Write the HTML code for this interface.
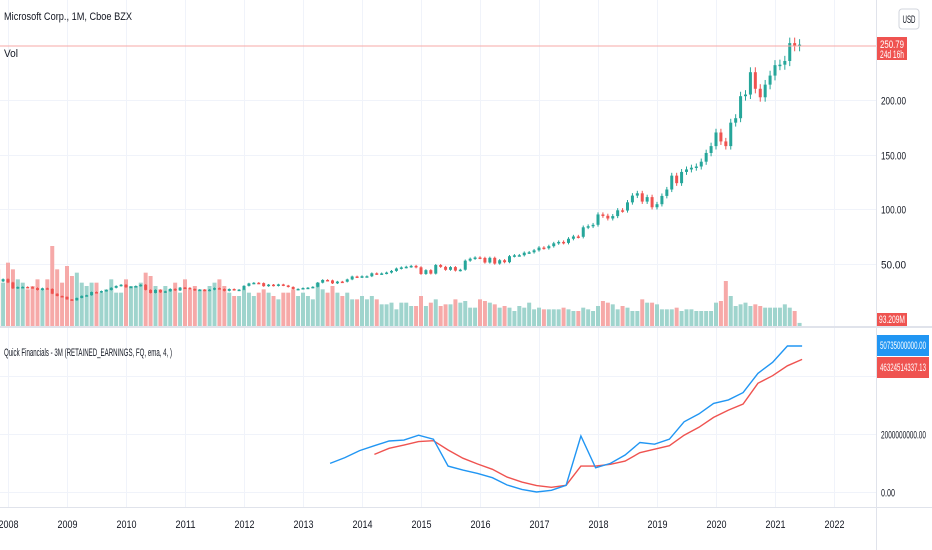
<!DOCTYPE html>
<html><head><meta charset="utf-8"><style>
html,body{margin:0;padding:0;background:#fff;width:932px;height:550px;overflow:hidden;font-family:"Liberation Sans",sans-serif}
svg text{font-family:"Liberation Sans",sans-serif;font-size:11px}
</style></head><body>
<svg id="chart" width="932" height="550">
<g id="grid"></g>
<g id="vol"></g>
<g id="candles"></g>
<line x1="0" y1="46" x2="876" y2="46" stroke="#f7a9a7" stroke-width="1"/>
<g id="lower"></g>
<rect x="0" y="326" width="932" height="2" fill="#e0e3eb"/>
<line x1="876.5" y1="0" x2="876.5" y2="550" stroke="#e0e3eb"/>
<line x1="0" y1="507.5" x2="932" y2="507.5" stroke="#e0e3eb"/>
<g id="axes"></g>
<text x="4" y="20" fill="#131722" font-size="12" textLength="128" lengthAdjust="spacingAndGlyphs">Microsoft Corp., 1M, Cboe BZX</text>
<text x="4" y="57" fill="#131722" font-size="12" textLength="14" lengthAdjust="spacingAndGlyphs">Vol</text>
<text x="4" y="356" fill="#131722" font-size="11" textLength="168" lengthAdjust="spacingAndGlyphs">Quick Financials - 3M (RETAINED_EARNINGS, FQ, ema, 4, )</text>
<rect x="899" y="9" width="20" height="20" rx="3" fill="#fff" stroke="#d1d4dc"/>
<text x="909" y="23" text-anchor="middle" fill="#131722" font-size="10" textLength="13" lengthAdjust="spacingAndGlyphs">USD</text>
<rect x="877" y="37" width="30" height="23" fill="#ef5350"/>
<text x="880" y="48" fill="#fff" font-size="10" textLength="24" lengthAdjust="spacingAndGlyphs">250.79</text>
<text x="880" y="58" fill="#fff" font-size="9" textLength="24" lengthAdjust="spacingAndGlyphs">24d 16h</text>
<rect x="877" y="313" width="30" height="13" fill="#ef5350"/>
<text x="879" y="323" fill="#fff" font-size="9" textLength="26" lengthAdjust="spacingAndGlyphs">93.209M</text>
<rect x="877" y="335" width="52" height="21" fill="#2196f3"/>
<text x="880" y="349" fill="#fff" font-size="10" textLength="46" lengthAdjust="spacingAndGlyphs">50735000000.00</text>
<rect x="877" y="357" width="52" height="21" fill="#ef5350"/>
<text x="880" y="371" fill="#fff" font-size="10" textLength="46" lengthAdjust="spacingAndGlyphs">46324514337.13</text>
</svg>
<script>
const closes=[29.5,29,28.7,29.5,36.8,33.6,35.6,
32.6,27.2,28.4,28.5,28.3,27.5,25.7,27.3,26.7,22.3,20.2,19.4,
17.1,16.2,18.4,20.3,20.9,23.8,23.5,24.7,25.7,27.7,29.4,30.5,
28.2,28.7,29.3,30.5,25.8,23.0,25.8,23.5,24.5,26.7,25.3,27.9,
27.7,26.6,25.4,26.0,25.0,26.0,27.4,26.6,24.9,26.6,25.6,26.0,
29.5,31.7,32.3,32.0,29.2,30.6,29.5,30.8,29.8,28.5,26.6,26.7,
27.5,27.8,28.6,32.4,34.9,34.5,31.8,33.4,33.3,35.4,38.1,37.4,
38.3,38.3,41.0,40.4,40.9,41.7,43.2,45.4,46.4,47.0,47.8,46.5,
40.4,43.9,40.7,48.6,46.9,44.2,46.7,43.5,44.3,52.6,54.4,55.5,
55.1,50.9,55.2,49.9,53.0,51.2,56.7,57.5,57.6,59.9,60.3,62.1,
64.6,64.0,65.9,68.5,69.8,68.9,72.7,74.8,74.5,83.2,84.2,85.5,
95.0,93.8,91.3,93.5,98.8,98.6,106.1,112.3,114.4,106.8,110.9,101.6,
104.4,112.0,117.9,130.6,123.7,134.0,136.3,137.9,139.0,143.4,151.4,157.7,
170.2,162.0,157.7,179.2,183.3,203.5,205.0,225.5,210.3,202.5,214.1,222.4,
231.96,232.4,235.8,252.2,249.7,250.79];
const volumes=[1300,1500,1400,1300,1800,1700,1300,
1900,1700,1400,1300,1100,1200,1400,1100,1400,2400,1700,1300,
1800,1500,1600,1300,1200,1300,1300,1000,1100,1400,1000,1000,
1400,1200,1200,1300,1600,1500,1200,1100,1200,1100,1300,1000,
1400,1100,1200,1100,1100,1200,1300,1400,1200,1000,900,900,
1100,1000,900,1000,1100,1000,900,800,1000,1000,1100,900,
1000,900,800,1300,1100,1000,1200,1000,900,1000,800,800,
900,800,900,800,650,650,700,500,700,700,600,600,
900,600,700,800,600,650,650,800,700,750,550,550,
800,750,700,650,550,600,550,450,600,550,700,500,
550,500,500,500,500,550,500,450,450,550,500,450,
600,750,700,650,500,600,550,450,450,800,700,700,
650,500,500,500,550,450,500,500,450,450,450,450,
700,750,1350,900,600,650,700,600,650,600,550,550,
550,550,650,550,450,93];
const retained=[9.9,11.9,14.3,16.0,17.6,17.9,19.6,18.2,9.0,7.6,6.5,5.0,2.5,1.0,0.1,0.7,2.4,19.3,8.4,9.9,12.8,17.1,16.5,18.2,24.2,26.9,30.5,31.7,34.2,40.8,44.6,50.2,50.2];
const emaVals=[13.0,15.1,16.2,17.4,17.7,14.5,11.7,9.7,7.9,5.2,3.5,2.3,1.7,2.4,9.0,9.0,9.6,10.7,13.6,14.8,16.0,19.6,22.3,25.7,28.2,30.3,37.4,40.0,43.4,45.6];
const years=[2008,2009,2010,2011,2012,2013,2014,2015,2016,2017,2018,2019,2020,2021,2022];
const priceTicks=[50,100,150,200];
const lowerTicks=[0,20,40];
const startMonth=-7;
const reStart=2013.46, emaOffset=3;

const NS='http://www.w3.org/2000/svg';
const xYear=y=>8+(y-2008)*59;
const xMonth=m=>8+m*59/12;
const yPrice=p=>318-p*1.09;
const yVol=v=>326-v/30;
const yRE=v=>492.3-v*2.915;
function mk(tag,attrs,parent){const e=document.createElementNS(NS,tag);for(const k in attrs)e.setAttribute(k,attrs[k]);parent.appendChild(e);return e;}
const grid=document.getElementById('grid'),axes=document.getElementById('axes');
years.forEach(y=>{
  const x=xYear(y)+0.5;
  let l=mk('line',{x1:x,y1:0,x2:x,y2:507,stroke:'#f0f3fa'},grid);
  
  
  let t=mk('text',{x:x-10,y:528,fill:'#131722','font-size':'11',textLength:20,lengthAdjust:'spacingAndGlyphs'},axes);
  t.textContent=y;
  
  
});
priceTicks.forEach(p=>{
  const y=Math.round(yPrice(p))+0.5;
  let l=mk('line',{x1:0,y1:y,x2:876,y2:y,stroke:'#f0f3fa'},grid);
  
  
  let t=mk('text',{x:881,y:y+4,fill:'#131722','font-size':'11',textLength:25,lengthAdjust:'spacingAndGlyphs'},axes);
  t.textContent=p.toFixed(2);
  
  
});
lowerTicks.forEach(v=>{
  const y=Math.round(yRE(v))+0.5;
  let l=mk('line',{x1:0,y1:y,x2:876,y2:y,stroke:'#f0f3fa'},grid);
  
  
  if(v===40)return;
  let t=mk('text',{x:881,y:y+4,fill:'#131722','font-size':'11',textLength:v?45:14,lengthAdjust:'spacingAndGlyphs'},axes);
  t.textContent=v?'2000000000.00':'0.00';
  
  
});
const vg=document.getElementById('vol'),cg=document.getElementById('candles');
closes.forEach((c,i)=>{
  const o=i?closes[i-1]:c;
  const up=c>=o;
  const x=xMonth(startMonth+i);
  const col=up?'#26a69a':'#ef5350';
  const vb=mk('rect',{x:x-2,y:yVol(volumes[i]),width:4,height:326-yVol(volumes[i]),fill:up?'#9fd4cd':'#f6a9a8'},vg);
  
  
  const hi=Math.max(o,c)*1.02,lo=Math.min(o,c)*0.98;
  const w=mk('line',{x1:x,y1:yPrice(hi),x2:x,y2:yPrice(lo),stroke:col,'stroke-width':1},cg);
  
  
  const top=yPrice(Math.max(o,c)),bot=yPrice(Math.min(o,c));
  const b=mk('rect',{x:x-1.5,y:top,width:3,height:Math.max(1.5,bot-top),fill:col},cg);
  
  
});
const lg=document.getElementById('lower');
const pts1=retained.map((v,i)=>xYear(reStart+i*0.25).toFixed(1)+','+yRE(v).toFixed(1)).join(' ');
const pts2=emaVals.map((v,i)=>xYear(reStart+(i+emaOffset)*0.25).toFixed(1)+','+yRE(v).toFixed(1)).join(' ');
const p2=mk('polyline',{points:pts2,fill:'none',stroke:'#ef5350','stroke-width':1.4},lg);


const p1=mk('polyline',{points:pts1,fill:'none',stroke:'#2196f3','stroke-width':1.4},lg);


</script>
</body></html>
